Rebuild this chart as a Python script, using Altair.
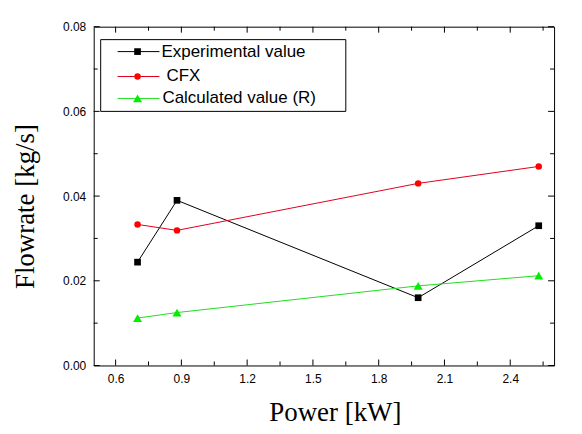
import altair as alt
import pandas as pd

# ---- data ----
power = [0.70, 0.88, 1.98, 2.53]
experimental = [0.0244, 0.0390, 0.0160, 0.0330]
cfx = [0.0333, 0.0319, 0.0430, 0.0470]
calculated = [0.0112, 0.0125, 0.0188, 0.0212]
series_names = ["Experimental value", "CFX", "Calculated value (R)"]

x_major = [0.6, 0.9, 1.2, 1.5, 1.8, 2.1, 2.4]
x_minor = [0.75, 1.05, 1.35, 1.65, 1.95, 2.25, 2.55]
y_major = [0.00, 0.02, 0.04, 0.06, 0.08]
y_minor = [0.01, 0.03, 0.05, 0.07]

# ---- styling ----
W, H = 462, 340
MAJ, MIN = 6, 4
SANS = "Liberation Sans"
SERIF = "Liberation Serif"

styles = [
    # line colour, marker colour, shape, size
    ("black", "black", "square", 45),
    ("#e00020", "#ff0000", "circle", 42),
    ("#22dd22", "#00ee00", "triangle-up", 80),
]
series_values = [experimental, cfx, calculated]

xscale = alt.Scale(domain=[0.5, 2.6], nice=False, zero=False)
yscale = alt.Scale(domain=[0.0, 0.08], nice=False, zero=False)

xaxis = alt.Axis(
    values=x_major, format=".1f", title="Power [kW]", ticks=False, tickSize=0,
    domain=False, grid=False, labelFont=SANS, labelFontSize=12, labelColor="black",
    labelPadding=8, titleFont=SERIF, titleFontSize=27, titleFontWeight="normal",
    titleColor="black", titleX=242, titleY=55, titleBaseline="alphabetic",
    titleAlign="center",
)
yaxis = alt.Axis(
    values=y_major, format=".2f", title="Flowrate [kg/s]", ticks=False, tickSize=0,
    domain=False, grid=False, labelFont=SANS, labelFontSize=12, labelColor="black",
    labelPadding=8, titleFont=SERIF, titleFontSize=27, titleFontWeight="normal",
    titleColor="black", titleX=-68, titleY=180, titleBaseline="middle",
    titleAlign="center", titleAngle=270,
)

X = alt.X("power:Q", scale=xscale, axis=xaxis)
Y = alt.Y("flow:Q", scale=yscale, axis=yaxis)

layers = []
for vals, (lc, mc, shp, sz) in zip(series_values, styles):
    df = pd.DataFrame({"power": power, "flow": vals})
    base = alt.Chart(df).encode(x=X, y=Y)
    layers.append(base.mark_line(color=lc, strokeWidth=1))
    layers.append(base.mark_point(shape=shp, filled=True, color=mc, size=sz, opacity=1))

# ---- inward ticks on all four sides ----
def xticks(vals, y0, y1):
    return alt.Chart(pd.DataFrame({"power": vals})).mark_rule(
        color="black", strokeWidth=1
    ).encode(x=X, y=alt.value(y0), y2=alt.value(y1))

def yticks(vals, x0, x1):
    return alt.Chart(pd.DataFrame({"flow": vals})).mark_rule(
        color="black", strokeWidth=1
    ).encode(y=Y, x=alt.value(x0), x2=alt.value(x1))

layers += [
    xticks(x_major, H, H - MAJ), xticks(x_minor, H, H - MIN),
    xticks(x_major, 0, MAJ), xticks(x_minor, 0, MIN),
    yticks(y_major, 0, MAJ), yticks(y_minor, 0, MIN),
    yticks(y_major, W, W - MAJ), yticks(y_minor, W, W - MIN),
]

# ---- legend box (Origin style) ----
one = pd.DataFrame({"k": [0]})
layers.append(
    alt.Chart(one).mark_rect(fill="white", stroke="black", strokeWidth=1).encode(
        x=alt.value(7), x2=alt.value(253), y=alt.value(13), y2=alt.value(85)
    )
)
row_y = [25, 50, 72]
text_x = [68, 73, 69]
for name, (lc, mc, shp, sz), ry, tx in zip(series_names, styles, row_y, text_x):
    layers.append(
        alt.Chart(one).mark_rule(color=lc, strokeWidth=1).encode(
            x=alt.value(24), x2=alt.value(66), y=alt.value(ry)
        )
    )
    layers.append(
        alt.Chart(one).mark_point(shape=shp, filled=True, color=mc, size=sz, opacity=1).encode(
            x=alt.value(44), y=alt.value(ry)
        )
    )
    layers.append(
        alt.Chart(one).mark_text(
            text=name, align="left", baseline="middle", font=SANS, fontSize=17, color="black"
        ).encode(x=alt.value(tx), y=alt.value(ry))
    )

chart = alt.layer(*layers).properties(
    width=W, height=H,
    autosize=alt.AutoSizeParams(type="none"),
    padding={"left": 86, "top": 18, "right": 20, "bottom": 66},
    background="white",
).configure_view(stroke="black", strokeWidth=1)

chart.save("out.html", embed_options={"renderer": "svg", "actions": False})
